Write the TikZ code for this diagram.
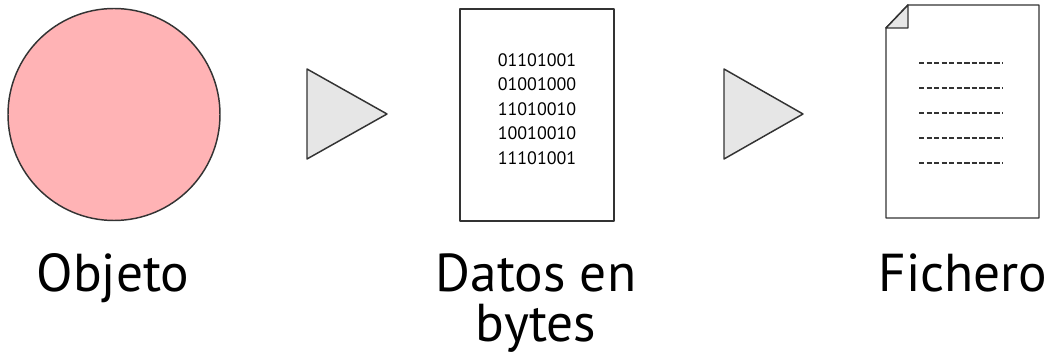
\documentclass[tikz,border=0pt]{standalone}
\usepackage{fontspec}
\setmainfont{PT Sans}
\usetikzlibrary{positioning}

\definecolor{rosa}{HTML}{FFB3B5}
\definecolor{gris}{HTML}{E6E6E6}
\definecolor{borde}{HTML}{333333}

\tikzset{
  contorno/.style={draw=borde, line width=1.1pt, line join=round},
  flecha/.style={contorno, fill=gris},
  etiqueta/.style={anchor=base, inner sep=0pt, font=\fontsize{40}{37.5}\selectfont},
  bits/.style={align=center, inner sep=0pt, font=\fontsize{13.5}{18.4}\selectfont},
  raya/.style={draw=borde, line width=0.8pt, dash pattern=on 4pt off 1.65pt}
}

\begin{document}
\begin{tikzpicture}[x=0.75pt, y=-0.75pt]
    \useasboundingbox (0,0) rectangle (1054,359);
    % objeto
    \node[circle, contorno, fill=rosa, minimum size=159pt, inner sep=0pt] (objeto) at (114,114.5) {};
    \node[etiqueta] (lobjeto) at (113,292) {Objeto};
    % flechas
    \draw[flecha] (307,69) -- (387,114) -- (307,159) -- cycle;
    \draw[flecha] (724,69) -- (803,114) -- (724,159) -- cycle;
    % datos
    \node[rectangle, contorno, fill=white, minimum width=115.5pt, minimum height=159pt, inner sep=0pt] (datos) at (537,115) {};
    \node[bits] (binario) at (537,109) {01101001\\01001000\\11010010\\10010010\\11101001};
    \node[etiqueta, align=center] (ldatos) at (536,342) {Datos en\\bytes};
    % fichero
    \draw[contorno, fill=white] (908,5) -- (1039,5) -- (1039,218) -- (886,218) -- (886,28) -- cycle;
    \draw[contorno, fill=gris] (908,5) -- (908,28) -- (886,28) -- cycle;
    \foreach \y in {63,88,113,138,163}
        \draw[raya] (919,\y) -- (1002,\y);
    \node[etiqueta] (lfichero) at (963,292) {Fichero};
\end{tikzpicture}
\end{document}
